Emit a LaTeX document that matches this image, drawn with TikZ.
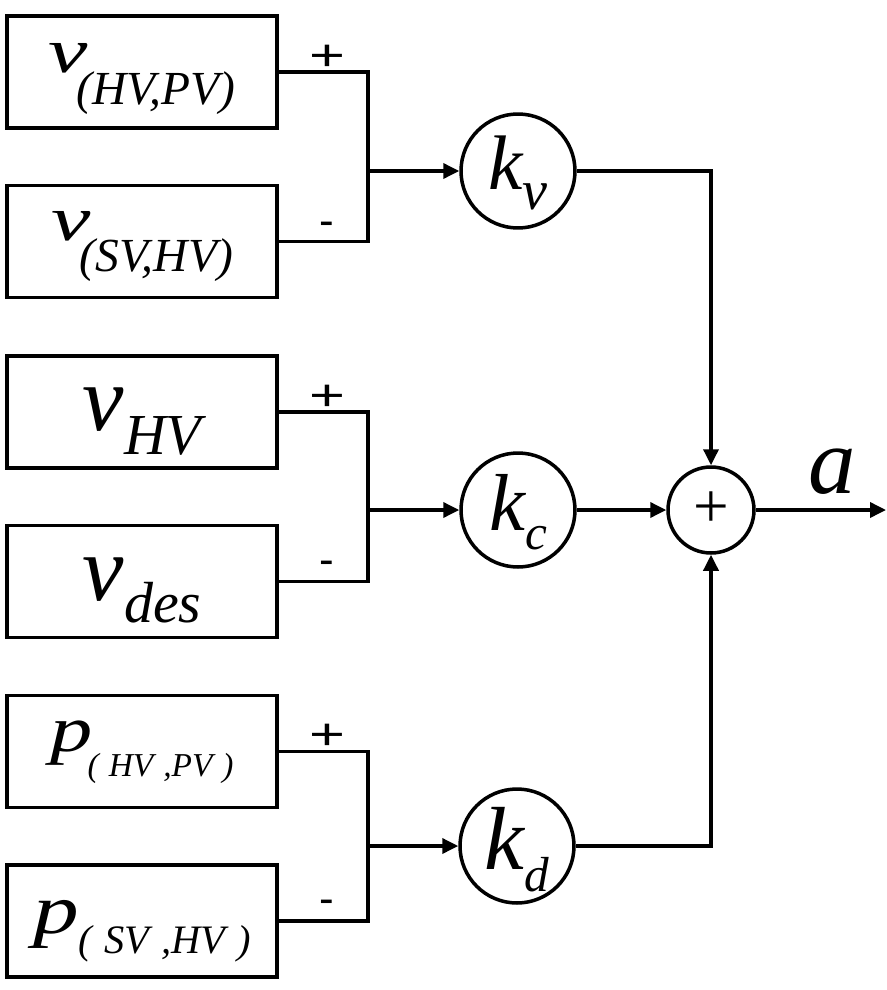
\documentclass[tikz,border=0pt]{standalone}
\usepackage{fontspec}
\setmainfont{Liberation Serif}
\newfontfamily\signfont{Liberation Sans}
\usetikzlibrary{arrows.meta,positioning}

% symbol with a lowered subscript: {main}{sub}{main size}{sub size}{drop}{main stretch}
\newcommand{\withsub}[6]{\scalebox{#6}[1]{\fontsize{#3}{#3}\selectfont #1}\raisebox{-#5}{\fontsize{#4}{#4}\selectfont #2}}

\begin{document}
\begin{tikzpicture}[
  x=0.02cm, y=-0.02cm,
  >={Triangle[length=0.32cm, width=0.3cm]},
  box/.style={draw, line width=2pt, minimum width=5.4cm, minimum height=2.24cm, inner sep=0pt, font=\itshape},
  gain/.style={draw, circle, line width=2pt, minimum size=2.28cm, inner sep=0pt, font=\itshape},
  sumnode/.style={draw, circle, line width=2pt, minimum size=1.72cm, inner sep=0pt},
  sign/.style={font=\signfont\fontsize{25pt}{25pt}\selectfont, inner sep=0pt},
  base/.style 2 args={text height=#1, text depth=#2},
  wire/.style={line width=2pt},
  arr/.style={->, line width=2pt}
]
\useasboundingbox (0,0) rectangle (886,990);

% input boxes
\node[box, base={0.04cm}{0cm}] (vhvpv) at (142,72) {\withsub{v}{\kern-0.22cm(HV,PV)}{36pt}{27pt}{0.64cm}{1.4}};
\node[box, base={0cm}{0.06cm}] (vsvhv) at (142,241.5) {\withsub{v}{\kern-0.22cm(SV,HV)}{36pt}{27pt}{0.64cm}{1.4}};
\node[box, base={0.72cm}{0cm}] (vhv) at (142,412) {\withsub{v}{HV}{53pt}{33pt}{0.5cm}{1}};
\node[box, base={0.74cm}{0cm}] (vdes) at (142,581.5) {\withsub{v}{des}{53pt}{33pt}{0.46cm}{1}};
\node[box, base={0cm}{0cm}] (phvpv) at (142,751.5) {\withsub{p}{\kern-0.1cm(\hspace{0.3em}HV\hspace{0.3em},PV\hspace{0.3em})}{37pt}{19pt}{0.5cm}{1.3}};
\node[box, base={0.48cm}{0cm}] (psvhv) at (142,921) {\withsub{p}{(\hspace{0.3em}SV\hspace{0.3em},HV\hspace{0.3em})}{40pt}{23pt}{0.4cm}{1.3}};

% gains and sum
\node[gain, base={0.76cm}{0cm}] (kv) at (518,171) {\withsub{k}{v}{44pt}{32pt}{0.4cm}{1}};
\node[gain, base={0.8cm}{0cm}] (kc) at (518,510) {\withsub{k}{c}{46pt}{28pt}{0.4cm}{1}};
\node[gain, base={0.92cm}{0cm}] (kd) at (517,846) {\withsub{k}{d}{51pt}{28pt}{0.44cm}{1}};
\node[sumnode] (sum) at (711,510) {\fontsize{36pt}{36pt}\selectfont +};

% junction points
\coordinate (j1) at (368,171);
\coordinate (j2) at (368,510);
\coordinate (j3) at (368,846);
\coordinate (out) at (886,510);

% signs
\node[sign] (p1) at (327,58) {\scalebox{1.4}[1]{+}};
\node[sign] (m1) at (327,229) {-};
\node[sign] (p2) at (327,398) {\scalebox{1.4}[1]{+}};
\node[sign] (m2) at (327,568) {-};
\node[sign] (p3) at (327,737) {\scalebox{1.4}[1]{+}};
\node[sign] (m3) at (327,907) {-};

\draw[wire] (vhvpv.east) -| (j1) |- (vsvhv.east);
\draw[wire] (vhv.east) -| (j2) |- (vdes.east);
\draw[wire] (phvpv.east) -| (j3) |- (psvhv.east);
\draw[arr] (j1) -- (kv);
\draw[arr] (j2) -- (kc);
\draw[arr] (j3) -- (kd);
\draw[arr] (kv.east) -| (sum.north);
\draw[arr] (kc) -- (sum);
\draw[arr] (kd.east) -| (sum.south);
\draw[arr] (sum) -- (out);
\node[font=\itshape\fontsize{54pt}{54pt}\selectfont, inner sep=0pt, anchor=base] (aout) at (832,493) {a};
\end{tikzpicture}
\end{document}
